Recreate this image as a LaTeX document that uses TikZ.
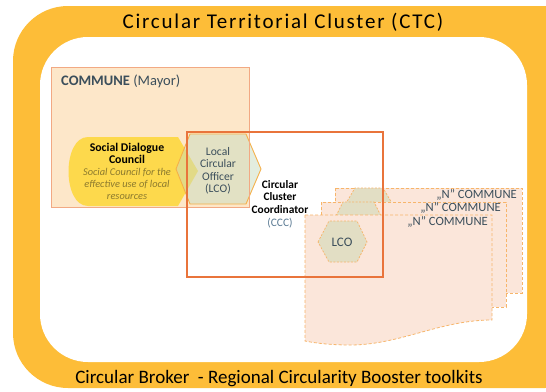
\documentclass[tikz,border=0pt]{standalone}
\usepackage{fontspec}
\setmainfont{Carlito}
\newfontfamily\titlefont[LetterSpace=8.5]{Carlito}
\definecolor{ctcYellow}{HTML}{FDBD38}
\definecolor{communeFill}{HTML}{FDE7C9}
\definecolor{communeDraw}{HTML}{F2A983}
\definecolor{sdcYellow}{HTML}{FDD94C}
\definecolor{sdcText}{HTML}{8C7A2E}
\definecolor{hexFill}{HTML}{C8DCC0}
\definecolor{hexDraw}{HTML}{F5B04A}
\definecolor{cccRed}{HTML}{E9743B}
\definecolor{pageFill}{HTML}{FBE6DA}
\definecolor{pageDraw}{HTML}{F7B56A}
\definecolor{smallHex}{HTML}{E2DEC4}
\definecolor{slate}{HTML}{3B4E5B}
\definecolor{cccBlue}{HTML}{5B7B94}
\begin{document}
\begin{tikzpicture}[x=1pt,y=-1pt,
  page/.style={fill=pageFill,draw=pageDraw,line width=0.8pt,dash pattern=on 3pt off 2pt},
  hexsmall/.style={fill=smallHex,draw=pageDraw,line width=0.7pt,dash pattern=on 2pt off 1.5pt},
  ntext/.style={anchor=east,inner sep=0pt,text=slate,font=\fontsize{12.6}{14}\selectfont},
  lbl/.style={inner sep=0pt,align=center}]
\useasboundingbox (0,0) rectangle (546,391);
\clip (0,0) rectangle (546,391);
% frame
\fill[ctcYellow,rounded corners=55pt] (13,6) rectangle (600,388);
\fill[white,rounded corners=48pt] (40,37) rectangle (527,362);
\node[inner sep=0pt] (title) at (283,22) {\titlefont\fontsize{21}{24}\selectfont Circular Territorial Cluster (CTC)};
\node[inner sep=0pt] (broker) at (279,379) {\fontsize{19}{22}\selectfont Circular Broker\ \ - Regional Circularity Booster toolkits};
% N communes
\draw[page] (335,188) rectangle (522,293);
\draw[hexsmall] (342,210) -- (355,188) -- (383,188) -- (396,210) -- (383,232) -- (355,232) -- cycle;
\node[ntext] (n3) at (517,195) {„N" COMMUNE};
\draw[page] (321,202) rectangle (506,307);
\draw[hexsmall] (333,222) -- (343,202) -- (374,202) -- (384,222) -- (374,242) -- (343,242) -- cycle;
\node[ntext] (n2) at (501,208) {„N" COMMUNE};
\draw[page] (305,215) -- (492,215) -- (492,320) .. controls (440,320) and (400,345) .. (350,345) .. controls (330,345) and (315,343) .. (305,341) -- cycle;
\node[ntext] (n1) at (488,222) {„N" COMMUNE};
\draw[hexsmall] (318,242) -- (329,221) -- (357,221) -- (367,242) -- (357,262) -- (329,262) -- cycle;
\node[lbl,text=slate,font=\fontsize{13}{14}\selectfont] (lco2) at (342,242) {LCO};
% commune
\fill[communeFill] (51,67) rectangle (249,207);
\node[anchor=west,inner sep=0pt,text=slate] (commune) at (61,81) {\fontsize{14.5}{17}\selectfont\textbf{COMMUNE} (Mayor)};
% social dialogue council
\fill[sdcYellow] (88,137) -- (178,137) -- (198,171) -- (178,206) -- (88,206) .. controls (62,206) and (62,137) .. (88,137) -- cycle;
\node[lbl,font=\fontsize{10.4}{12}\selectfont] (sdc) at (127,171) {\fontsize{11.8}{12}\selectfont\textbf{Social Dialogue}\\\fontsize{11.8}{12}\selectfont\textbf{Council}\\\textcolor{sdcText}{\itshape Social Council for the}\\\textcolor{sdcText}{\itshape effective use of local}\\\textcolor{sdcText}{\itshape resources}};
% LCO hexagon
\fill[hexFill,fill opacity=0.5] (176,169) -- (190,134) -- (246,134) -- (261,169) -- (246,204) -- (190,204) -- cycle;
\draw[hexDraw,line width=0.9pt] (176,169) -- (190,134) -- (246,134) -- (261,169) -- (246,204) -- (190,204) -- cycle;
\draw[communeDraw,line width=0.9pt] (51,67) rectangle (249,207);
\node[lbl,text=slate,font=\fontsize{11.6}{12.5}\selectfont] (lco) at (218,171) {Local\\Circular\\Officer\\(LCO)};
% CCC
\draw[cccRed,line width=2pt] (187,132) rectangle (383,277);
\node[lbl,font=\fontsize{11.4}{12.7}\selectfont] (ccc) at (280,204) {\textbf{Circular}\\\textbf{Cluster}\\\textbf{Coordinator}\\\textcolor{cccBlue}{(CCC)}};
\end{tikzpicture}
\end{document}
